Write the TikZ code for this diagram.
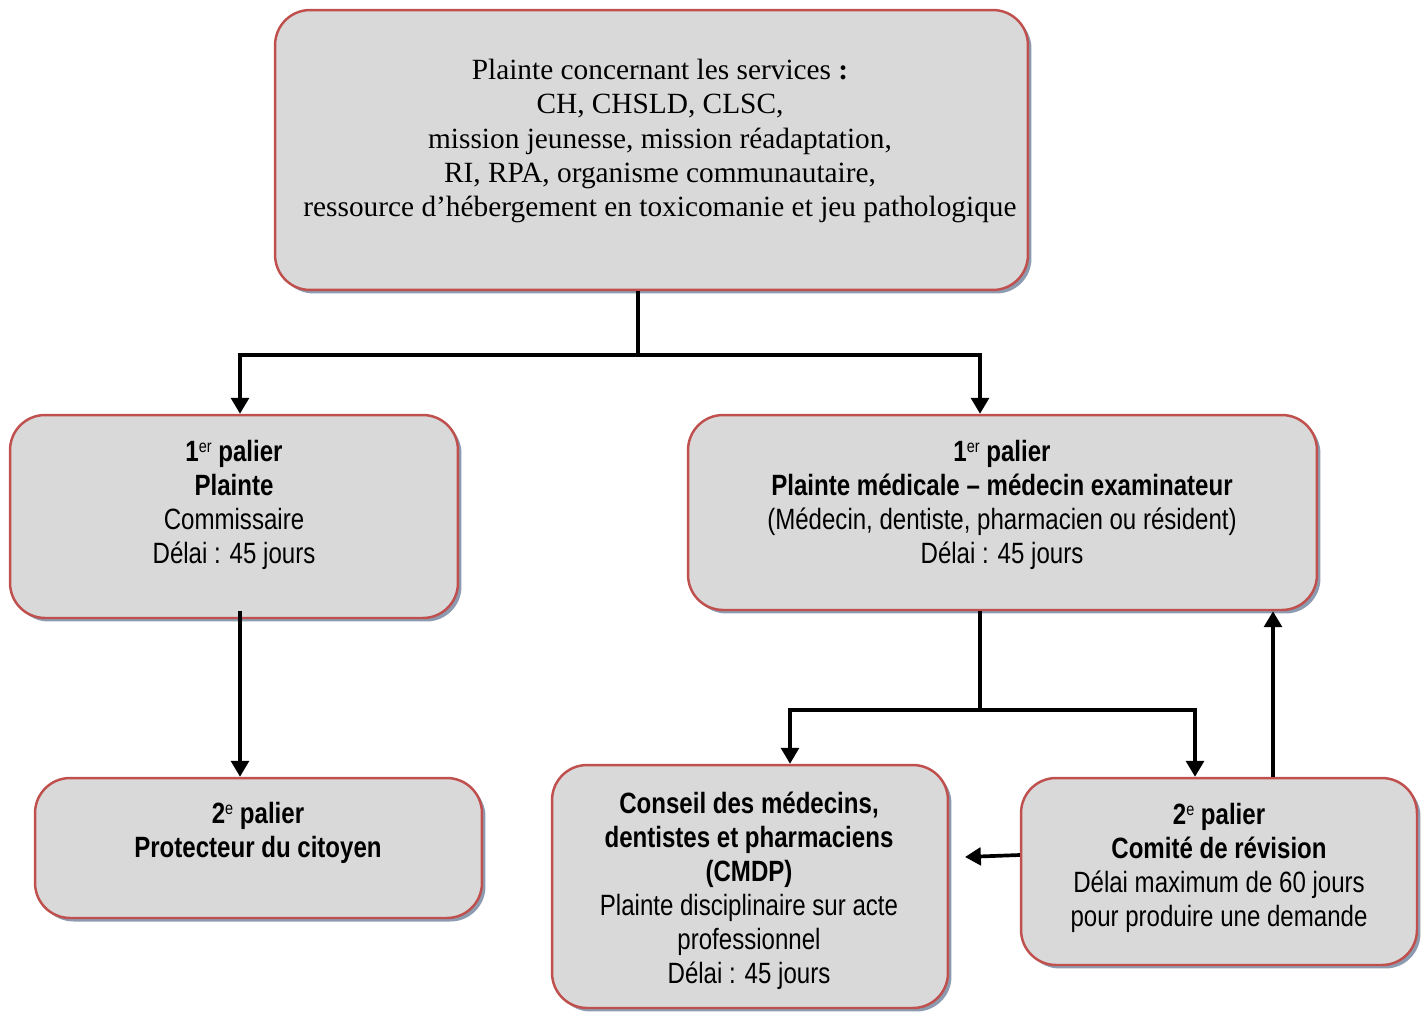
\documentclass[tikz,border=0pt]{standalone}
\usepackage{fontspec}
\setmainfont{Liberation Serif}
\newfontfamily\narrowfont[FakeStretch=0.82]{Liberation Sans}
\usetikzlibrary{arrows.meta, positioning, shadows}
\definecolor{boxfill}{RGB}{217, 217, 217}
\definecolor{boxline}{RGB}{192, 80, 77}
\definecolor{boxshadow}{RGB}{141, 155, 176}
\newcommand{\sups}[1]{\raisebox{0.55ex}{\mdseries\fontsize{10}{10}\selectfont #1}}

\begin{document}
\begin{tikzpicture}[x=0.02cm, y=-0.02cm,
    box/.style={draw=boxline, line width=1.4pt, fill=boxfill, rounded corners=0.7cm,
        drop shadow={shadow xshift=0.07cm, shadow yshift=-0.07cm, fill=boxshadow, opacity=1}},
    serif/.style={align=center, font=\fontsize{16.7}{19.4}\selectfont},
    sans/.style={align=center, font=\narrowfont\fontsize{16.7}{19.4}\selectfont},
    arr/.style={line width=2.1pt, -{Triangle[width=10pt, length=9pt]}},
    link/.style={line width=2.1pt}]
        \useasboundingbox (0,0) rectangle (1426,1011);

        % Draw the boxes
        \node[box, minimum width=15.06cm, minimum height=5.6cm] (top) at (651.5,150) {};
        \node[box, minimum width=8.96cm, minimum height=4.06cm] (left1) at (234,516.5) {};
        \node[box, minimum width=12.58cm, minimum height=3.9cm] (right1) at (1002.5,512.5) {};
        \node[box, minimum width=8.94cm, minimum height=2.8cm] (left2) at (258.5,848) {};
        \node[box, minimum width=7.92cm, minimum height=4.86cm] (cmdp) at (750,886.5) {};
        \node[box, minimum width=7.92cm, minimum height=3.74cm] (comite) at (1219,871.5) {};

        % Add texts
        \node[serif] (toptext) at (660,141) {Plainte concernant les services \textbf{:}\\
            CH, CHSLD, CLSC,\\
            mission jeunesse, mission réadaptation,\\
            RI, RPA, organisme communautaire,\\
            ressource d’hébergement en toxicomanie et jeu pathologique};
        \node[sans] (left1text) at (234,505) {\textbf{1\sups{er} palier}\\
            \textbf{Plainte}\\
            Commissaire\\
            Délai : 45 jours};
        \node[sans] (right1text) at (1002,505) {\textbf{1\sups{er} palier}\\
            \textbf{Plainte médicale – médecin examinateur}\\
            (Médecin, dentiste, pharmacien ou résident)\\
            Délai : 45 jours};
        \node[sans] (left2text) at (258,832.5) {\textbf{2\sups{e} palier}\\
            \textbf{Protecteur du citoyen}};
        \node[sans] (cmdptext) at (749,890.5) {\textbf{Conseil des médecins,}\\
            \textbf{dentistes et pharmaciens}\\
            \textbf{(CMDP)}\\
            Plainte disciplinaire sur acte\\
            professionnel\\
            Délai : 45 jours};
        \node[sans] (comitetext) at (1219,868) {\textbf{2\sups{e} palier}\\
            \textbf{Comité de révision}\\
            Délai maximum de 60 jours\\
            pour produire une demande};

        % Split points
        \coordinate (split) at (638,355);
        \coordinate (split2) at (980,710);
        \coordinate (cmdpin) at (965,857);

        % Draw connectors
        \draw[link] (top.south -| split) -- (split);
        \draw[arr] (split) -| ([xshift=0.12cm]left1.north);
        \draw[arr] (split) -| ([xshift=-0.45cm]right1.north);
        \draw[arr] ([xshift=0.12cm, yshift=0.16cm]left1.south) -- ([xshift=0.12cm]left1.south |- left2.north);
        \draw[link] (right1.south -| split2) -- (split2);
        \draw[arr] (split2) -| ([xshift=0.8cm]cmdp.north);
        \draw[arr] (split2) -| ([xshift=-0.48cm]comite.north);
        \draw[arr] ([yshift=0.33cm]comite.west) -- (cmdpin);
        \draw[arr] ([xshift=1.08cm]comite.north) -- ([xshift=1.08cm]comite.north |- right1.south);
    \end{tikzpicture}
\end{document}
